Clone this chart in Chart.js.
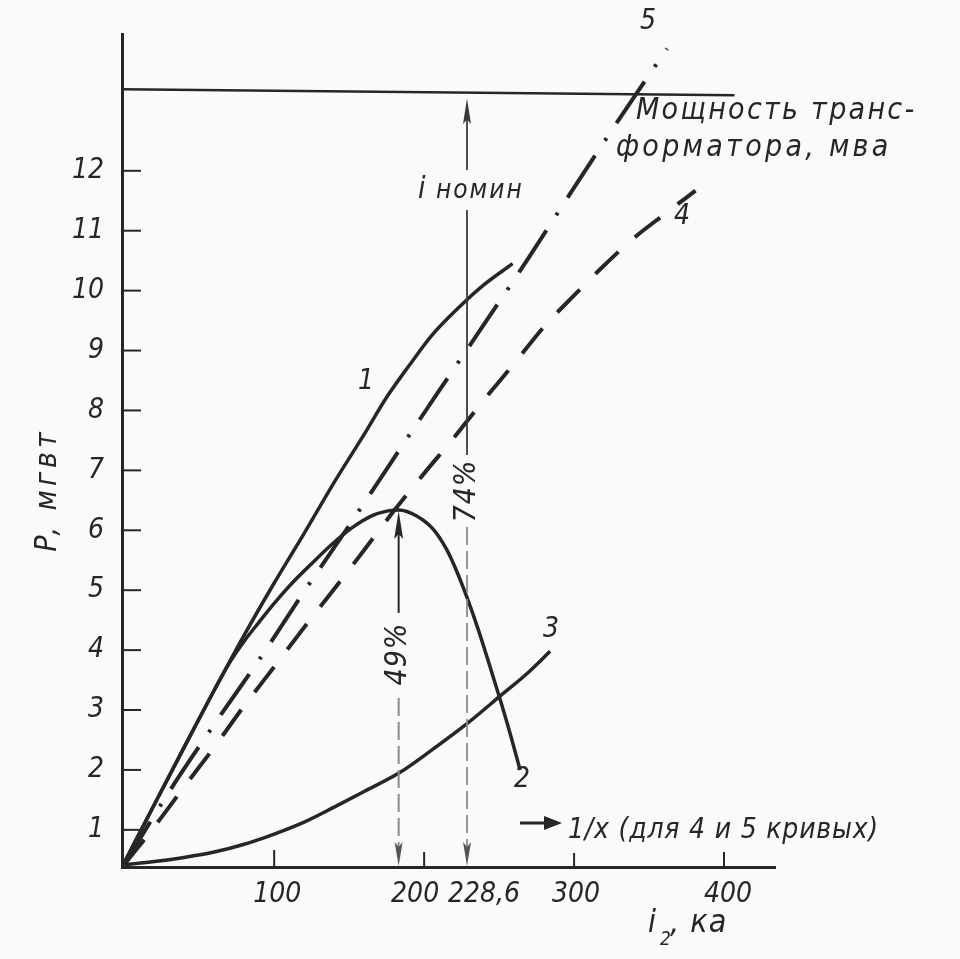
<!DOCTYPE html>
<html><head><meta charset="utf-8">
<script src="https://cdn.jsdelivr.net/npm/chart.js@4.4.0/dist/chart.umd.min.js"></script>
<style>html,body{margin:0;padding:0;background:#fafaf8;}#wrap{width:960px;height:959px;}</style>
</head><body><div id="wrap"><canvas id="c" width="960" height="959"></canvas></div>
<script>
const FONT = '"Liberation Sans Narrow", "DejaVu Sans Condensed", "DejaVu Sans", sans-serif';
const INK = '#262626';

// axis ticks
const yTicks = [1,2,3,4,5,6,7,8,9,10,11,12];
const xTicks = [100, 200, 228.6, 300, 400];
const xTickLabels = ['100', '200', '228,6', '300', '400'];

// curve 1 (solid)
const c1X = [0, 20, 40, 60, 80, 100, 120, 140, 160, 175, 190, 205, 224, 240, 259];
const c1Y = [0.45, 1.42, 2.38, 3.33, 4.25, 5.12, 5.95, 6.8, 7.6, 8.22, 8.75, 9.25, 9.74, 10.1, 10.45];
// curve 2 (solid, peaked)
const c2X = [0, 20, 40, 60, 71, 80, 90, 100, 112, 124, 140, 153, 165, 175, 183, 195, 206, 215, 222, 229, 236, 242, 251, 258, 264];
const c2Y = [0.45, 1.42, 2.38, 3.33, 3.82, 4.15, 4.47, 4.78, 5.12, 5.42, 5.8, 6.06, 6.24, 6.32, 6.34, 6.24, 6.02, 5.68, 5.3, 4.85, 4.35, 3.88, 3.15, 2.55, 2.0];
// curve 3 (solid, convex)
const c3X = [0, 20, 40, 60, 80, 100, 120, 140, 160, 184, 205, 229, 251, 270, 284];
const c3Y = [0.42, 0.47, 0.54, 0.63, 0.76, 0.93, 1.13, 1.38, 1.64, 1.96, 2.33, 2.78, 3.24, 3.64, 3.98];
// curve 4 (dashed)
const c4X = [0, 20, 40, 60, 80, 100, 120, 140, 160, 180, 200, 220, 240, 260, 280, 300, 320, 340, 360, 381];
const c4Y = [0.42, 1.05, 1.72, 2.38, 3.07, 3.72, 4.38, 5.02, 5.67, 6.33, 6.95, 7.55, 8.18, 8.78, 9.4, 9.92, 10.42, 10.88, 11.27, 11.67];
// curve 5 (dash-dot)
const c5X = [0, 30, 60, 90, 120, 150, 180, 210, 240, 270, 300, 330, 362];
const c5Y = [0.42, 1.64, 2.76, 3.84, 4.98, 6.08, 7.21, 8.33, 9.44, 10.56, 11.72, 12.86, 14.04];
// transformer rating line
const ratingX = [-1.5, 407];
const ratingY = [13.36, 13.26];
// marked currents
const peakI = 183, peakP = 6.34;
const nomI = 228.6;

const pts = (xs, ys) => xs.map((x, i) => ({x, y: ys[i]}));
const f = (size, style='italic') => `${style} ${size}px ${FONT}`;

function arrowHead(ctx, x, tipY, down, len, half) {
  const by = down ? tipY - len : tipY + len;
  ctx.beginPath();
  ctx.moveTo(x, tipY);
  ctx.lineTo(x - half, by);
  ctx.lineTo(x, by + (down ? 5 : -5));
  ctx.lineTo(x + half, by);
  ctx.closePath();
  ctx.fill();
}
function seg(ctx, x1, y1, x2, y2) { ctx.beginPath(); ctx.moveTo(x1, y1); ctx.lineTo(x2, y2); ctx.stroke(); }
function txt(ctx, s, x, y, size, spacing) {
  ctx.font = f(size);
  ctx.letterSpacing = (spacing || 0) + 'px';
  ctx.fillText(s, x, y);
  ctx.letterSpacing = '0px';
}

const annot = {
  id: 'annot',
  afterDraw(chart) {
    const ctx = chart.ctx, xs = chart.scales.x, ys = chart.scales.y;
    const X = v => xs.getPixelForValue(v), Y = v => ys.getPixelForValue(v);
    const left = chart.chartArea.left, bottom = chart.chartArea.bottom;
    ctx.save();
    ctx.strokeStyle = INK; ctx.fillStyle = INK; ctx.lineCap = 'butt';
    // inner y tick marks
    ctx.lineWidth = 2;
    yTicks.forEach(v => seg(ctx, left, Y(v), left + 19, Y(v)));
    // x tick marks
    const tickH = [17, 15, 0, 14, 15];
    xTicks.forEach((v, i) => { if (tickH[i]) seg(ctx, X(v), bottom, X(v), bottom - tickH[i]); });
    // x tick labels
    const nudge = [3, -9, 17, 2, 4];
    ctx.textAlign = 'center'; ctx.textBaseline = 'middle';
    xTicks.forEach((v, i) => txt(ctx, xTickLabels[i], X(v) + nudge[i], bottom + 28, 28, 0));
    // x title
    ctx.textAlign = 'left'; ctx.textBaseline = 'alphabetic';
    txt(ctx, 'i', 648, 932, 32);
    txt(ctx, '2', 660, 945, 19);
    txt(ctx, ', ка', 670, 932, 32, 1);
    // y title
    ctx.save(); ctx.translate(48, 490); ctx.rotate(-Math.PI / 2);
    ctx.textAlign = 'center'; ctx.textBaseline = 'middle';
    txt(ctx, 'P, мгвт', 0, 0, 30, 4); ctx.restore();

    // 1/x note with arrow
    ctx.lineWidth = 3; seg(ctx, 520, 823, 548, 823);
    ctx.beginPath(); ctx.moveTo(562, 823); ctx.lineTo(544, 816); ctx.lineTo(544, 830); ctx.closePath(); ctx.fill();
    ctx.textAlign = 'left'; ctx.textBaseline = 'alphabetic';
    txt(ctx, '1/x (для 4 и 5 кривых)', 568, 838, 28, 0.8);

    // transformer rating text
    txt(ctx, 'Мощность транс-', 636, 119, 30, 2.3);
    txt(ctx, 'форматора, мва', 616, 156, 30, 3.3);

    // curve numbers
    ctx.textAlign = 'center'; ctx.textBaseline = 'middle';
    txt(ctx, '1', 366, 382, 28);
    txt(ctx, '2', 522, 780, 28);
    txt(ctx, '3', 551, 630, 28);
    txt(ctx, '4', 682, 217, 28);
    txt(ctx, '5', 648, 22, 28);

    // nominal current line (228.6)
    const xn = X(nomI), yTop = Y(ratingY[0]) + 9;
    ctx.lineWidth = 1.8; ctx.strokeStyle = '#3a3a3a'; ctx.fillStyle = '#3a3a3a';
    seg(ctx, xn, yTop + 20, xn, 170);
    seg(ctx, xn, 210, xn, 455);
    arrowHead(ctx, xn, yTop, false, 26, 4);
    ctx.strokeStyle = '#8a8a8a'; ctx.setLineDash([18, 6]);
    seg(ctx, xn, 527, xn, bottom - 20);
    ctx.setLineDash([]);
    ctx.fillStyle = '#555'; arrowHead(ctx, xn, bottom - 1, true, 24, 4);
    ctx.fillStyle = INK;
    ctx.textAlign = 'left'; ctx.textBaseline = 'alphabetic';
    txt(ctx, 'i', 418, 198, 30);
    txt(ctx, 'номин', 436, 198, 26, 2);
    ctx.save(); ctx.translate(xn, 491); ctx.rotate(-Math.PI / 2);
    ctx.textAlign = 'center'; ctx.textBaseline = 'middle';
    txt(ctx, '74%', 0, 0, 30, 1); ctx.restore();

    // peak line (49%)
    const xp = X(peakI), yp = Y(peakP);
    ctx.strokeStyle = INK; ctx.fillStyle = INK; ctx.lineWidth = 2;
    seg(ctx, xp, yp + 20, xp, 613);
    arrowHead(ctx, xp, yp + 1, false, 28, 4.5);
    ctx.strokeStyle = '#8a8a8a'; ctx.setLineDash([18, 6]);
    seg(ctx, xp, 698, xp, bottom - 20);
    ctx.setLineDash([]);
    ctx.fillStyle = '#555'; arrowHead(ctx, xp, bottom - 1, true, 24, 4);
    ctx.fillStyle = INK;
    ctx.save(); ctx.translate(xp, 654); ctx.rotate(-Math.PI / 2);
    ctx.textAlign = 'center'; ctx.textBaseline = 'middle';
    txt(ctx, '49%', 0, 0, 30, 1); ctx.restore();
    ctx.restore();
  }
};

const solid = (data) => ({data, borderColor: INK, borderWidth: 3.5, pointRadius: 0, cubicInterpolationMode: 'monotone', fill: false});

new Chart(document.getElementById('c'), {
  type: 'line',
  data: {
    datasets: [
      solid(pts(c1X, c1Y)),
      solid(pts(c2X, c2Y)),
      solid(pts(c3X, c3Y)),
      Object.assign(solid(pts(c4X, c4Y)), {borderDash: [32, 22], borderWidth: 4}),
      Object.assign(solid(pts(c5X, c5Y)), {borderDash: [50, 18, 3, 18], borderWidth: 4}),
      {data: pts(ratingX, ratingY), borderColor: INK, borderWidth: 2.5, pointRadius: 0, tension: 0, fill: false}
    ]
  },
  options: {
    responsive: false,
    animation: false,
    devicePixelRatio: 1,
    layout: {padding: {left: 0, right: 185, top: 28, bottom: 0}},
    plugins: {legend: {display: false}, tooltip: {enabled: false}},
    scales: {
      x: {
        type: 'linear', min: -1.5, max: 434,
        ticks: {display: false},
        grid: {display: false, drawTicks: false},
        border: {display: true, color: INK, width: 3},
        afterFit: s => { s.height = 92; }
      },
      y: {
        type: 'linear', min: 0.38, max: 14.27,
        afterBuildTicks: s => { s.ticks = yTicks.map(v => ({value: v})); },
        ticks: {font: {family: FONT, size: 28, style: 'italic'}, color: INK, padding: 18},
        grid: {display: false, drawTicks: false},
        border: {display: true, color: INK, width: 3},
        afterFit: s => { s.width = 122; }
      }
    }
  },
  plugins: [annot]
});
</script>
</body></html>
